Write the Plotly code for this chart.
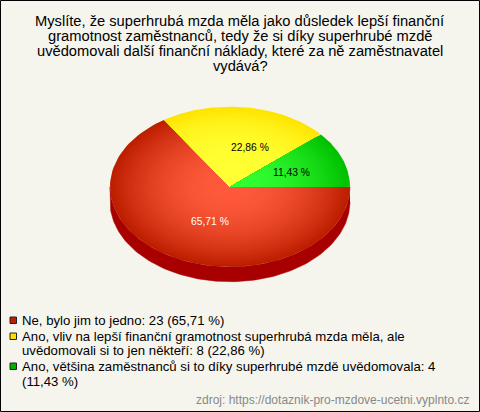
import numpy as np
import plotly.graph_objects as go

categories = ["Ne, bylo jim to jedno", "Ano, vliv na lepší finanční gramotnost superhrubá mzda měla, ale<br>uvědomovali si to jen někteří", "Ano, většina zaměstnanců si to díky superhrubé mzdě uvědomovala"]
counts = [23, 8, 4]
percent_labels = ["65,71 %", "22,86 %", "11,43 %"]
label_colors = ["#ffffff", "#000000", "#000000"]
center_colors = [(255, 90, 60), (255, 255, 51), (51, 255, 51)]
rim_colors = [(190, 30, 0), (255, 228, 0), (0, 192, 0)]
falloff = [2, 3.5, 2]
swatch_colors = ["#c02000", "#ffdd00", "#00b000"]
side_color = "#a80000"
bg = "#f5f5ee"
title_lines = ["Myslíte, že superhrubá mzda měla jako důsledek lepší finanční", "gramotnost zaměstnanců, tedy že si díky superhrubé mzdě", "uvědomovali další finanční náklady, které za ně zaměstnavatel", "vydává?"]
source = "zdroj: https://dotaznik-pro-mzdove-ucetni.vyplnto.cz"

FONT = "Liberation Sans"
cx, cy, rx, ry, depth = 230, 186.7, 120, 80, 15
fig = go.Figure()
total = sum(counts)

# side wall
t = np.linspace(0, np.pi, 120)
xs = np.r_[cx + rx * np.cos(t), cx + rx * np.cos(t[::-1])]
ys = np.r_[cy + ry * np.sin(t), cy + depth + ry * np.sin(t[::-1])]
fig.add_trace(go.Scatter(x=xs, y=ys, fill="toself", fillcolor=side_color, mode="lines",
                         line=dict(color=side_color, width=0.5), hoverinfo="skip"))

start = 0.0
steps = 40
mids = []
for value, c0, c1, p in zip(counts, center_colors, rim_colors, falloff):
    sweep = 2 * np.pi * value / total
    a = np.linspace(start, start + sweep, 100)
    mids.append(start + sweep / 2)
    for i in range(steps):
        f = 1 - i / steps  # radius fraction, outer first
        g = f ** p
        col = [round(c0[k] + (c1[k] - c0[k]) * g) for k in range(3)]
        color = f"rgb({col[0]},{col[1]},{col[2]})"
        px = np.r_[cx, cx + f * rx * np.cos(a), cx]
        py = np.r_[cy, cy + f * ry * np.sin(a), cy]
        fig.add_trace(go.Scatter(x=px, y=py, fill="toself", fillcolor=color, mode="lines",
                                 line=dict(width=0), hoverinfo="skip"))
    start += sweep

annotations = []
label_shift = [8, 12, 5]
for m, lab, col, dx in zip(mids, percent_labels, label_colors, label_shift):
    annotations.append(dict(x=cx + 0.5 * rx * np.cos(m) + dx, y=cy + 0.5 * ry * np.sin(m),
                            text=lab, showarrow=False, xanchor="center", yanchor="middle",
                            font=dict(family=FONT, size=10.3, color=col)))
for i, line in enumerate(title_lines):
    annotations.append(dict(x=240, y=20.5 + 15 * i, text=line, showarrow=False, xanchor="center", yanchor="middle",
                            font=dict(family=FONT, size=14.7, color="#000000")))

rows = [320.5, 336.5, 350.5, 366.5, 381.5]
legend_y = [0, 1, 3]
texts = [f"{c}: {n} ({p})" for c, n, p in zip(categories, counts, percent_labels)]
line_parts = [texts[0]] + texts[1].split("<br>") + [f"{categories[2]}: {counts[2]}", f"({percent_labels[2]})"]
for y, line in zip(rows, line_parts):
    annotations.append(dict(x=20, y=y, text=line, showarrow=False, xanchor="left", yanchor="middle",
                            font=dict(family=FONT, size=13.2, color="#000000")))
annotations.append(dict(x=471, y=400, text=source, showarrow=False, xanchor="right", yanchor="middle",
                        font=dict(family=FONT, size=12, color="#888888")))

shapes = [dict(type="rect", xref="x", yref="y", x0=0.5, y0=0.5, x1=479.5, y1=411.5,
               line=dict(color="#000000", width=1), fillcolor="rgba(0,0,0,0)")]
for idx, col in zip(legend_y, swatch_colors):
    y = rows[idx]
    shapes.append(dict(type="rect", x0=10, x1=16.5, y0=y - 3.5, y1=y + 3, fillcolor=col,
                       line=dict(color="#222222", width=1)))

fig.update_layout(width=480, height=412, margin=dict(l=0, r=0, t=0, b=0), autosize=False,
                  paper_bgcolor=bg, plot_bgcolor=bg, showlegend=False,
                  xaxis=dict(range=[0, 480], visible=False, fixedrange=True),
                  yaxis=dict(range=[412, 0], visible=False, fixedrange=True),
                  annotations=annotations, shapes=shapes)
fig.write_html("out.html", config=dict(displayModeBar=False),
               post_script="document.body.style.margin='0';document.documentElement.style.overflow='hidden';")
